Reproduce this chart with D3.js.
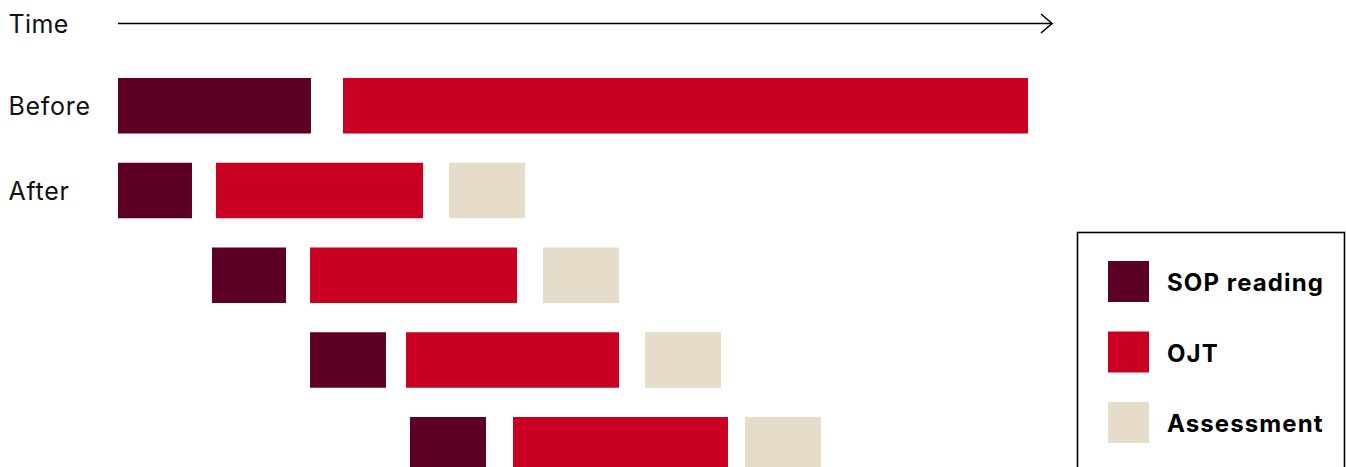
<!DOCTYPE html>
<html>
<head>
<meta charset="utf-8">
<script src="https://cdn.jsdelivr.net/npm/d3@7"></script>
<style>
    html, body { margin: 0; padding: 0; background: #fff; }
    svg { display: block; font-family: Inter, "Noto Sans", sans-serif; }
</style>
</head>
<body>
<svg id="chart" width="1346" height="467"></svg>
<script>
// rows, top to bottom (only the first two get a label)
var rows = ["before", "after1", "after2", "after3", "after4"];
var rowLabels = ["Before", "After", "", "", ""];

var phases = ["SOP reading", "OJT", "Assessment"];
var phaseColors = ["#5c0026", "#c90022", "#e5ddca"];

// start / end of every phase per row, on a 0-100 time scale
var sopStart = [0, 0, 10.06, 20.56, 31.26];
var sopEnd = [20.66, 7.92, 17.99, 28.69, 39.40];
var ojtStart = [24.09, 10.49, 20.56, 30.84, 42.29];
var ojtEnd = [97.43, 32.66, 42.72, 53.64, 65.31];
var assessStart = [null, 35.44, 45.50, 56.42, 67.13];
var assessEnd = [null, 43.58, 53.64, 64.56, 75.27];

var timeDomain = [0, 100];

(function() {

    var svg = d3.select("#chart");

    var x = d3.scaleLinear()
        .domain(timeDomain)
        .range([118, 1052]);

    var y = d3.scaleBand()
        .domain(rows)
        .range([78, 472.5])
        .paddingInner(0.345)
        .paddingOuter(0);

    var color = d3.scaleOrdinal()
        .domain(phases)
        .range(phaseColors);

    // flatten into segments
    var segments = [];
    rows.forEach(function(r, i) {
        segments.push({ row: r, phase: "SOP reading", start: sopStart[i], end: sopEnd[i] });
        segments.push({ row: r, phase: "OJT", start: ojtStart[i], end: ojtEnd[i] });
        if (assessStart[i] !== null) {
            segments.push({ row: r, phase: "Assessment", start: assessStart[i], end: assessEnd[i] });
        }
    });

    // time arrow
    var axisY = 23.5;
    var time = svg.append("g").attr("class", "time-axis");

    time.append("line")
        .attr("x1", x(timeDomain[0]))
        .attr("x2", x(timeDomain[1]))
        .attr("y1", axisY)
        .attr("y2", axisY)
        .attr("stroke", "#000")
        .attr("stroke-width", 1.6);

    time.append("path")
        .attr("d", "M" + (x(timeDomain[1]) - 11) + "," + (axisY - 9.5) +
            "L" + x(timeDomain[1]) + "," + axisY +
            "L" + (x(timeDomain[1]) - 11) + "," + (axisY + 9.5))
        .attr("fill", "none")
        .attr("stroke", "#000")
        .attr("stroke-width", 1.6);

    time.append("text")
        .attr("x", 8.5)
        .attr("y", axisY + 9.5)
        .attr("font-size", 25)
        .attr("letter-spacing", 0.4)
        .attr("fill", "#111")
        .text("Time");

    // row labels
    svg.append("g")
        .attr("class", "row-labels")
        .selectAll("text")
        .data(rows)
        .enter()
        .append("text")
        .attr("x", 8.5)
        .attr("y", function(d) { return y(d) + y.bandwidth() / 2 + 9; })
        .attr("font-size", 25)
        .attr("letter-spacing", 0.7)
        .attr("fill", "#111")
        .text(function(d, i) { return rowLabels[i]; });

    // bars
    svg.append("g")
        .attr("class", "bars")
        .selectAll("rect")
        .data(segments)
        .enter()
        .append("rect")
        .attr("x", function(d) { return x(d.start); })
        .attr("width", function(d) { return x(d.end) - x(d.start); })
        .attr("y", function(d) { return y(d.row); })
        .attr("height", y.bandwidth())
        .attr("fill", function(d) { return color(d.phase); });

    // legend
    var legend = svg.append("g")
        .attr("class", "legend")
        .attr("transform", "translate(1077.5,232.5)");

    legend.append("rect")
        .attr("width", 267)
        .attr("height", 300)
        .attr("fill", "#fff")
        .attr("stroke", "#000")
        .attr("stroke-width", 1.6);

    var item = legend.selectAll("g.item")
        .data(phases)
        .enter()
        .append("g")
        .attr("class", "item")
        .attr("transform", function(d, i) { return "translate(30.5," + (28.5 + i * 70.5) + ")"; });

    item.append("rect")
        .attr("width", 41)
        .attr("height", 41)
        .attr("fill", function(d) { return color(d); });

    item.append("text")
        .attr("x", 59)
        .attr("y", 30)
        .attr("font-size", 24)
        .attr("font-weight", 700)
        .attr("letter-spacing", 1.1)
        .attr("fill", "#000")
        .text(function(d) { return d; });

})();
</script>
</body>
</html>
